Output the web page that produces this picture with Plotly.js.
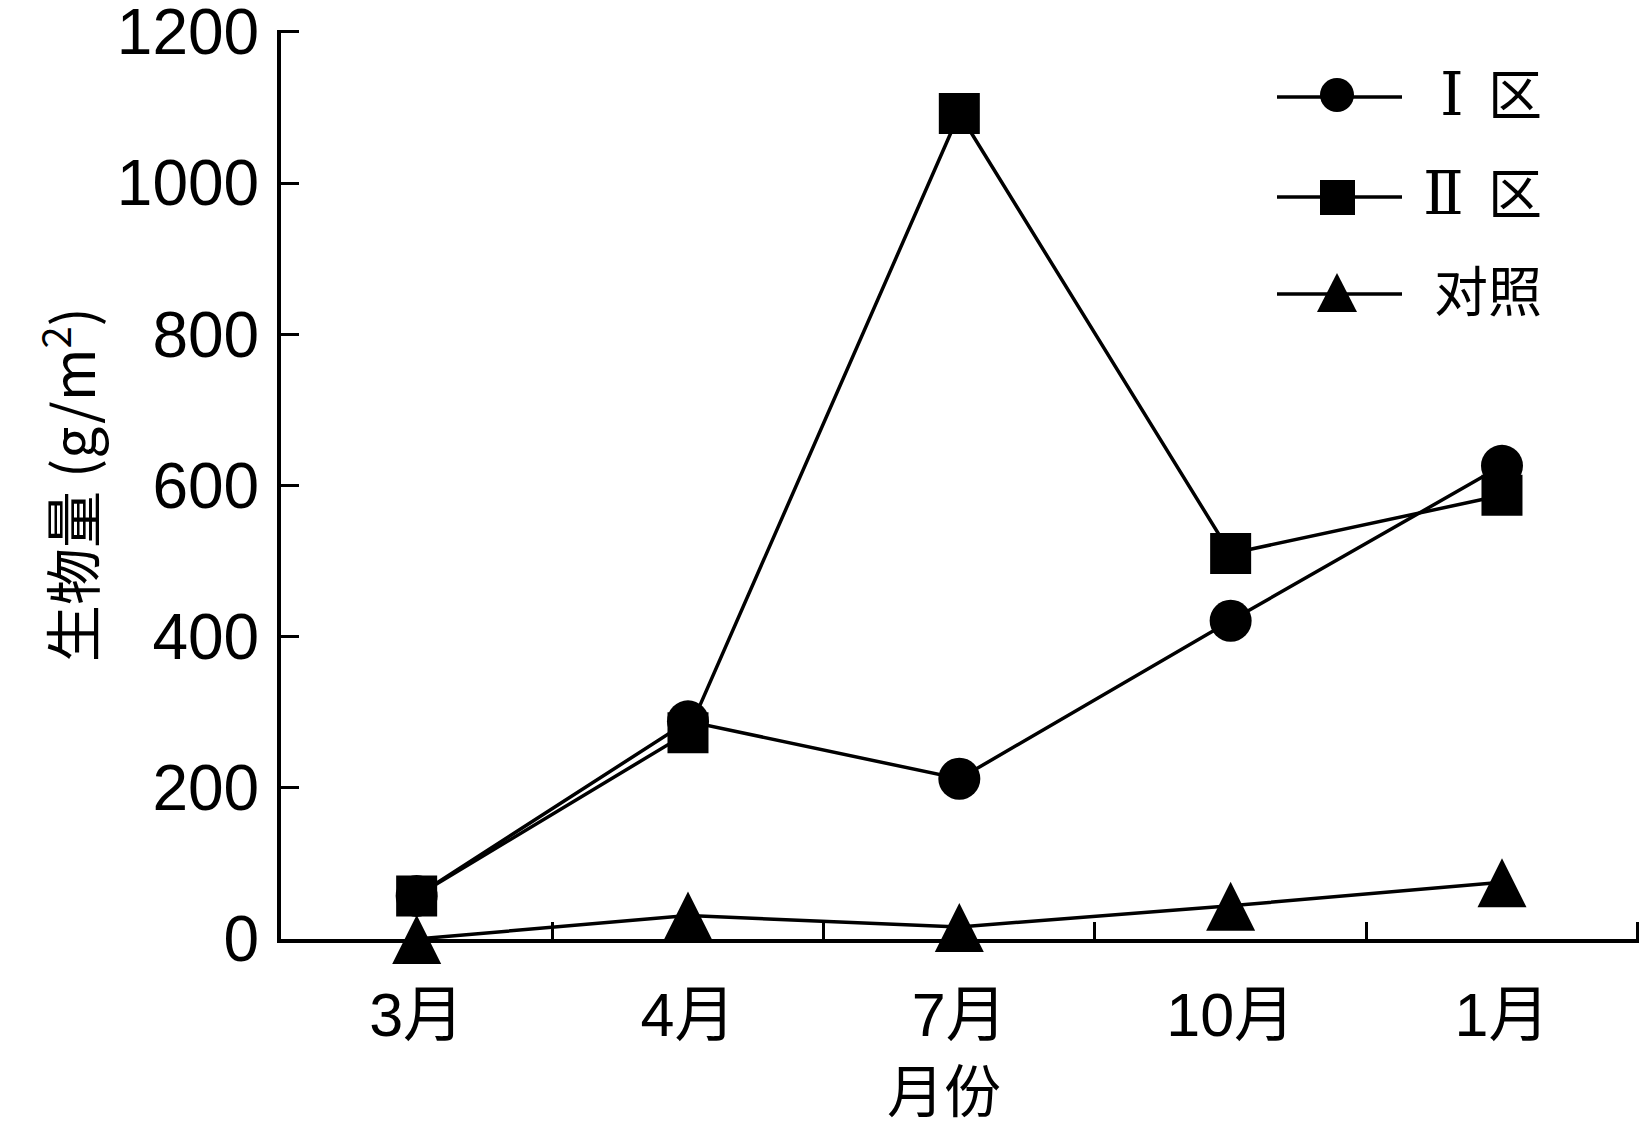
<!DOCTYPE html>
<html>
<head>
<meta charset="utf-8">
<script src="https://cdn.plot.ly/plotly-3.0.1.min.js"></script>
<style>html,body{margin:0;padding:0;background:#fff;}#chart{width:1640px;height:1130px;}</style>
</head>
<body>
<div id="chart"></div>
<script>
const months = ["3月", "4月", "7月", "10月", "1月"];
const roman = s => "<span style=\"font-family:'DejaVu Serif';font-size:60px\">" + s + "</span>&nbsp;&nbsp;区";
const seriesNames = [roman("Ⅰ"), roman("Ⅱ"), "对照"];
const zone1 = [57, 288, 212, 421, 626];
const zone2 = [57, 273, 1092, 510, 587];
const control = [0, 31, 16, 44, 75];
const yTicks = [0, 200, 400, 600, 800, 1000, 1200];
const xTitle = "月份";
const yTitle = "生物量 (g/m<sup>2</sup>)";

const latin = "'Liberation Sans', Arial, 'Noto Sans CJK SC', sans-serif";
const cjk = "'Noto Sans CJK SC', sans-serif";

// plot area in pixels (for the hand-built legend)
const W = 1640, H = 1130, L = 281, R = 1, T = 30, B = 191;
const pw = W - L - R, ph = H - T - B;
const px = v => (v - L) / pw;
const py = v => (H - B - v) / ph;

function trace(name, y, marker) {
  return {
    type: "scatter", mode: "lines+markers", x: months, y: y, name: name,
    line: {color: "#000", width: 3.5},
    marker: Object.assign({color: "#000", line: {width: 0}}, marker),
    cliponaxis: false, showlegend: false
  };
}

const data = [
  trace(seriesNames[0], zone1, {symbol: "circle", size: 42}),
  trace(seriesNames[1], zone2, {symbol: "square", size: 41}),
  trace(seriesNames[2], control, {symbol: "arrow-down", size: 49, angle: 180, standoff: 24})
];

// legend built from shapes + annotations
const legRows = [97, 197, 294];
const shapes = [];
const annotations = [];
legRows.forEach((yy, i) => {
  shapes.push({type: "line", xref: "paper", yref: "paper", x0: px(1277), x1: px(1402), y0: py(yy), y1: py(yy), line: {color: "#000", width: 3.5}});
  annotations.push({xref: "paper", yref: "paper", x: px(1544), y: py(yy - 6), xanchor: "right", yanchor: "middle", showarrow: false,
    text: seriesNames[i], font: {family: cjk, size: 54, color: "#000"}});
});
shapes.push({type: "circle", xref: "paper", yref: "paper", x0: px(1320), x1: px(1354), y0: py(78), y1: py(112), fillcolor: "#000", line: {width: 0}});
shapes.push({type: "rect", xref: "paper", yref: "paper", x0: px(1320), x1: px(1355), y0: py(180), y1: py(215), fillcolor: "#000", line: {width: 0}});
shapes.push({type: "path", xref: "paper", yref: "paper",
  path: "M" + px(1317) + "," + py(312) + " L" + px(1357) + "," + py(312) + " L" + px(1337) + "," + py(273) + " Z",
  fillcolor: "#000", line: {width: 0}});

annotations.push({xref: "paper", yref: "paper", x: px(944), y: py(1044), xanchor: "center", yanchor: "top", showarrow: false,
  text: xTitle, font: {family: cjk, size: 57, color: "#000"}});

const layout = {
  width: W, height: H,
  margin: {l: L, r: R, t: T, b: B, pad: 0},
  paper_bgcolor: "#fff", plot_bgcolor: "#fff",
  showlegend: false,
  shapes: shapes,
  annotations: annotations,
  xaxis: {
    type: "category", categoryarray: months, range: [-0.5, 4.505],
    tickson: "boundaries", ticks: "inside", ticklen: 17, tickwidth: 3, tickcolor: "#000",
    showline: true, linewidth: 4, linecolor: "#000",
    showgrid: false, zeroline: false,
    tickfont: {family: latin, size: 61, color: "#000"},
    ticklabelstandoff: 20,
    ticklabeloverflow: "allow",
    automargin: false
  },
  yaxis: {
    range: [0, 1202.5], tickvals: yTicks, ticktext: yTicks.map(String),
    ticks: "inside", ticklen: 18, tickwidth: 3, tickcolor: "#000",
    showline: true, linewidth: 4, linecolor: "#000",
    showgrid: false, zeroline: false,
    tickfont: {family: latin, size: 64, color: "#000"},
    ticklabelstandoff: 5,
    ticklabeloverflow: "allow",
    automargin: false,
    title: {text: yTitle, font: {family: cjk, size: 57, color: "#000"}, standoff: 4}
  }
};

Plotly.newPlot("chart", data, layout, {displayModeBar: false, staticPlot: true});
</script>
</body>
</html>
